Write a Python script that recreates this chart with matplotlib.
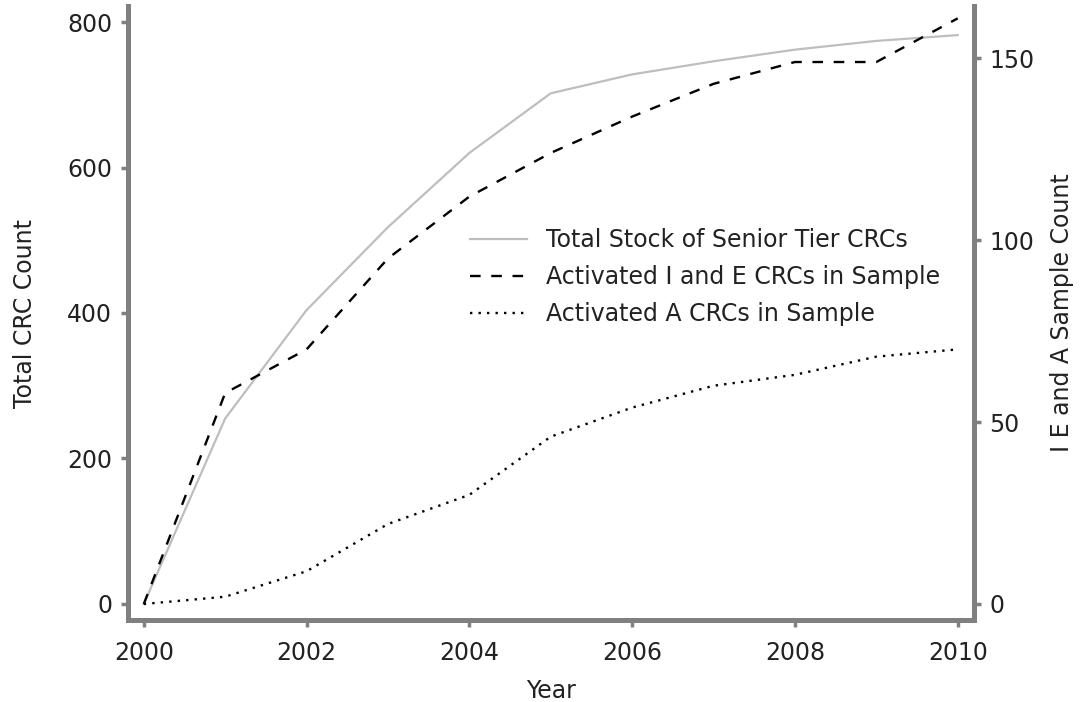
import matplotlib
matplotlib.use("Agg")
import matplotlib.pyplot as plt

years = [2000, 2001, 2002, 2003, 2004, 2005, 2006, 2007, 2008, 2009, 2010]
total_stock = [0, 255, 404, 518, 620, 702, 728, 746, 762, 774, 782]
ie_sample = [0, 58, 70, 95, 112, 124, 134, 143, 149, 149, 161]
a_sample = [0, 2, 9, 22, 30, 46, 54, 60, 63, 68, 70]

x_ticks = [2000, 2002, 2004, 2006, 2008, 2010]
left_ticks = [0, 200, 400, 600, 800]
right_ticks = [0, 50, 100, 150]

labels = ["Total Stock of Senior Tier CRCs",
          "Activated I and E CRCs in Sample",
          "Activated A CRCs in Sample"]

plt.rcParams['font.family'] = ['DejaVu Sans']
FS = 17
spine_col = "#808080"
txt_col = "#222222"

fig = plt.figure(figsize=(10.84, 7.02), dpi=100)
ax = fig.add_axes([127.5/1084, (702-620)/702, (974-127.5)/1084, (620-6)/702])
ax2 = ax.twinx()

l1, = ax.plot(years, total_stock, color="#bebebe", lw=1.6, solid_joinstyle='round')
l2, = ax2.plot(years, ie_sample, color="black", lw=1.7, dashes=(4.5, 4.5))
l3, = ax2.plot(years, a_sample, color="black", lw=1.7, dashes=(1.0, 2.6))

ax.set_xlim(1999.8, 2010.2)
ax.set_ylim(-22, 822)
ax2.set_ylim(-22/5, 822/5)

ax.set_xticks(x_ticks)
ax.set_yticks(left_ticks)
ax2.set_yticks(right_ticks)

for a in (ax, ax2):
    for s in a.spines.values():
        s.set_visible(False)
    a.tick_params(colors=spine_col, labelcolor=txt_col, labelsize=FS,
                  width=2.5, length=5)
ax.spines['left'].set_visible(True)
ax.spines['bottom'].set_visible(True)
ax2.spines['right'].set_visible(True)
for s in (ax.spines['left'], ax.spines['bottom'], ax2.spines['right']):
    s.set_color(spine_col)
    s.set_linewidth(3.6)
    s.set_capstyle('projecting')

ax.tick_params(axis='x', pad=10)
ax.tick_params(axis='y', pad=6)
ax2.tick_params(axis='y', pad=6)
ax.set_xlabel("Year", fontsize=FS, labelpad=10, color=txt_col)
ax.set_ylabel("Total CRC Count", fontsize=FS, labelpad=22, color=txt_col)
ax2.set_ylabel("I E and A Sample Count", fontsize=FS, labelpad=11, color=txt_col)

leg = ax2.legend([l1, l2, l3], labels, loc='center left',
                 bbox_to_anchor=(470/1084, (702-277)/702),
                 bbox_transform=fig.transFigure,
                 frameon=False, fontsize=FS, handlelength=2.4,
                 handletextpad=0.8, labelspacing=0.55, borderpad=0,
                 borderaxespad=0)
for t in leg.get_texts():
    t.set_color(txt_col)

fig.savefig("out.png", dpi=100)
